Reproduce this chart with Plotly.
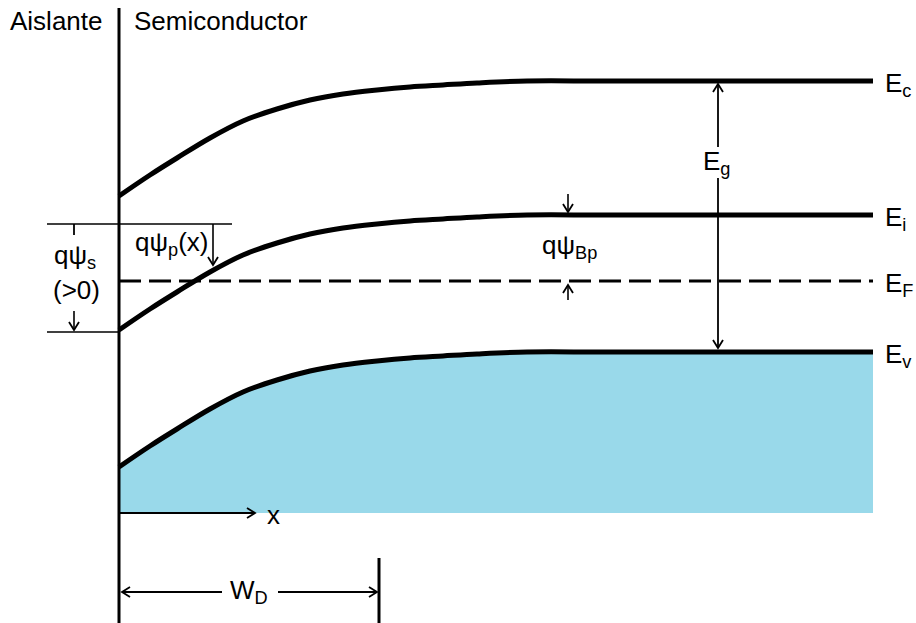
import plotly.graph_objects as go

# Diagram coordinates: horizontal position and energy (downward = lower energy on screen)
interface_x = 119
bulk_end_x = 873
bottom_y = 513

# Flat-band levels in the bulk
level_keys = ["Ec", "Ei", "EF", "Ev"]
level_subs = ["c", "i", "F", "v"]
level_y = {"Ec": 81, "Ei": 215, "EF": 281, "Ev": 352}

# Band-bending profile q*psi_p(x) sampled along the depletion region
bend_x = [119, 150, 177, 210, 243, 277, 310, 343, 377, 410, 443, 477, 527, 600, 700, 873]
bend_v = [115, 94, 77, 57, 40, 28, 19, 13, 9, 6, 4, 2, 0, 0, 0, 0]

FONT = "Liberation Sans, Arial, sans-serif"
BLACK = "#000000"
FILL = "#99D9EA"

fig = go.Figure()

def band(level):
    return [level + b for b in bend_v]

# Filled valence band: bottom edge, then the band edge filled down to it
fig.add_trace(go.Scatter(
    x=[interface_x, bulk_end_x], y=[bottom_y, bottom_y], mode="lines",
    line=dict(width=0), hoverinfo="skip", showlegend=False))
fig.add_trace(go.Scatter(
    x=bend_x, y=band(level_y["Ev"]), mode="lines", fill="tonexty", fillcolor=FILL,
    line=dict(width=0, shape="spline", smoothing=1),
    hoverinfo="skip", showlegend=False))

# Bent bands
for key in ["Ec", "Ei", "Ev"]:
    fig.add_trace(go.Scatter(
        x=bend_x, y=band(level_y[key]), mode="lines",
        line=dict(color=BLACK, width=5, shape="spline", smoothing=1),
        hoverinfo="skip", showlegend=False))

# Fermi level (flat, dashed)
fig.add_trace(go.Scatter(
    x=[interface_x, bulk_end_x], y=[level_y["EF"], level_y["EF"]], mode="lines",
    line=dict(color=BLACK, width=3, dash="22px,8px"),
    hoverinfo="skip", showlegend=False))

shapes = []

def seg(x0, y0, x1, y1, w=1.6):
    shapes.append(dict(type="line", xref="x", yref="y", x0=x0, y0=y0, x1=x1, y1=y1,
                       line=dict(color=BLACK, width=w)))

def head(x, y, d, L=8, H=5, w=1.8):
    # open chevron arrowhead with tip at (x, y)
    if d == "down":
        p = f"M {x-H},{y-L} L {x},{y} L {x+H},{y-L}"
    elif d == "up":
        p = f"M {x-H},{y+L} L {x},{y} L {x+H},{y+L}"
    elif d == "right":
        p = f"M {x-L},{y-H} L {x},{y} L {x-L},{y+H}"
    else:
        p = f"M {x+L},{y-H} L {x},{y} L {x+L},{y+H}"
    shapes.append(dict(type="path", xref="x", yref="y", path=p,
                       line=dict(color=BLACK, width=w)))

# Insulator / semiconductor interface
seg(interface_x, 8, interface_x, 623, w=3)

# Surface potential q*psi_s reference lines
seg(47, 224, 232, 224, w=1.3)
seg(47, 332, interface_x, 332, w=1.3)
seg(74, 224, 74, 235, w=1.8)
seg(74, 311, 74, 330, w=1.6)
head(74, 330, "down")

# q*psi_p(x) arrow
seg(213, 224, 213, 265, w=1.6)
head(213, 265, "down")

# q*psi_Bp arrows
seg(568, 194, 568, 212, w=1.6)
head(568, 212, "down")
seg(568, 300, 568, 285, w=1.6)
head(568, 285, "up")

# Band gap arrow
seg(718, 84, 718, 147, w=1.8)
seg(718, 178, 718, 348, w=1.8)
head(718, 84, "up")
head(718, 348, "down")

# x axis arrow
seg(interface_x, 513, 255, 513, w=2)
head(255, 513, "right")

# Depletion width W_D
seg(122, 592, 222, 592, w=1.8)
seg(278, 592, 377, 592, w=1.8)
head(122, 592, "left")
head(377, 592, "right")
seg(379, 558, 379, 623, w=3)

fig.update_layout(shapes=shapes)

def sub(s):
    return f"<sub>{s}</sub>"

def text(x, y, s, anchor="center", size=26):
    fig.add_annotation(x=x, y=y, xref="x", yref="y", text=s, showarrow=False,
                       xanchor=anchor, yanchor="middle",
                       font=dict(family=FONT, size=size, color=BLACK))

text(8, 21, "Aislante", anchor="left")
text(132, 21, "Semiconductor", anchor="left")

for key, s in zip(level_keys, level_subs):
    text(883, level_y[key] + 3, "E" + sub(s), anchor="left")

text(716, 162, "E" + sub("g"))
text(75, 256, "qψ" + sub("s"))
text(76, 290, "(&gt;0)")
text(171, 243, "qψ" + sub("p") + "(x)")
text(569, 246, "qψ" + sub("Bp"))
text(273, 515, "x")
text(249, 591, "W" + sub("D"))

fig.update_xaxes(range=[0, 916], visible=False, fixedrange=True)
fig.update_yaxes(range=[623, 0], visible=False, fixedrange=True)
fig.update_layout(width=916, height=623, margin=dict(l=0, r=0, t=0, b=0),
                  plot_bgcolor="white", paper_bgcolor="white")

fig.write_html("out.html")
